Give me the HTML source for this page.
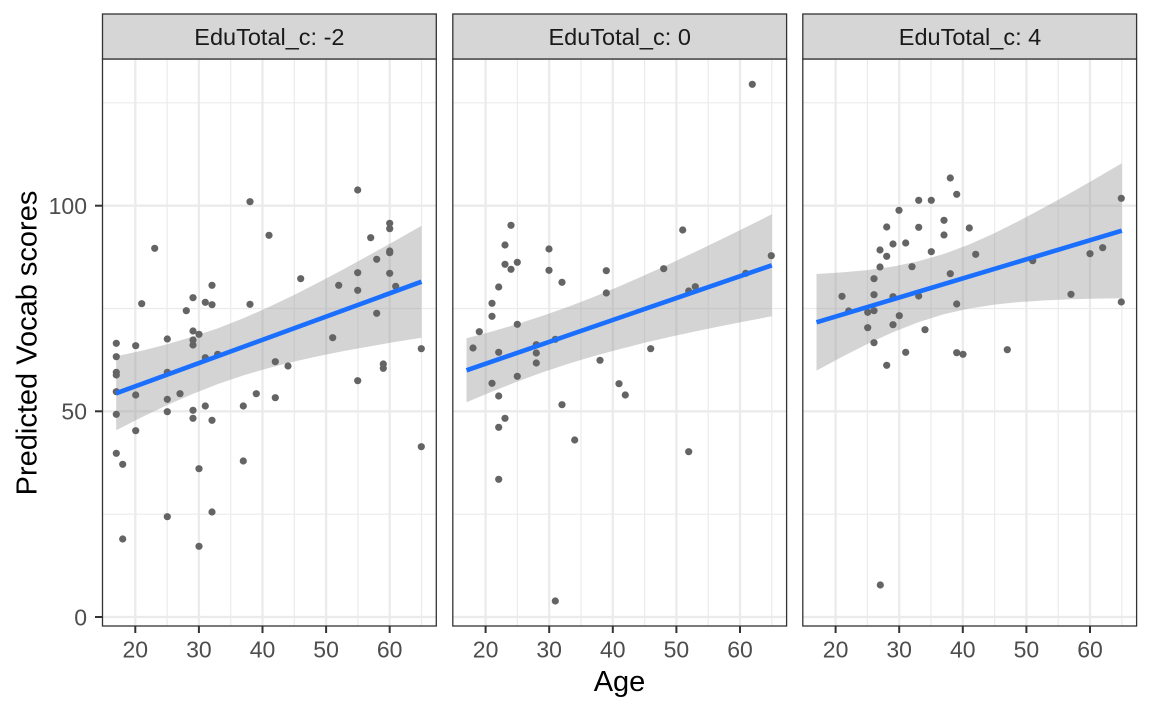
<!DOCTYPE html>
<html><head><meta charset="utf-8"><style>
html,body{margin:0;padding:0;background:#fff;}
svg{display:block;font-family:"Liberation Sans",Arial,sans-serif;}
</style></head><body>
<svg width="1152" height="711" viewBox="0 0 1152 711" xmlns="http://www.w3.org/2000/svg">
<rect width="1152" height="711" fill="#fff"/>
<defs>
<g id="grid">
<rect x="102.5" y="59" width="333.8" height="567" fill="#fff"/>
<g stroke="#EBEBEB" stroke-width="1.2">
<line x1="102.5" x2="436.3" y1="514.2" y2="514.2"/>
<line x1="102.5" x2="436.3" y1="308.5" y2="308.5"/>
<line x1="102.5" x2="436.3" y1="102.8" y2="102.8"/>
<line y1="59" y2="626" x1="167.1" x2="167.1"/>
<line y1="59" y2="626" x1="230.7" x2="230.7"/>
<line y1="59" y2="626" x1="294.3" x2="294.3"/>
<line y1="59" y2="626" x1="357.9" x2="357.9"/>
<line y1="59" y2="626" x1="421.5" x2="421.5"/>
</g>
<g stroke="#EBEBEB" stroke-width="2.3">
<line x1="102.5" x2="436.3" y1="617" y2="617"/>
<line x1="102.5" x2="436.3" y1="411.3" y2="411.3"/>
<line x1="102.5" x2="436.3" y1="205.7" y2="205.7"/>
<line y1="59" y2="626" x1="135.3" x2="135.3"/>
<line y1="59" y2="626" x1="198.9" x2="198.9"/>
<line y1="59" y2="626" x1="262.5" x2="262.5"/>
<line y1="59" y2="626" x1="326.1" x2="326.1"/>
<line y1="59" y2="626" x1="389.7" x2="389.7"/>
</g>
</g>
<g id="frame">
<rect x="102.5" y="59" width="333.8" height="567" fill="none" stroke="#333" stroke-width="1.3"/>
<rect x="102.5" y="14" width="333.8" height="45" fill="#D6D6D6" stroke="#333" stroke-width="1.3"/>
<g stroke="#333" stroke-width="2">
<line x1="135.3" x2="135.3" y1="626" y2="633"/>
<line x1="198.9" x2="198.9" y1="626" y2="633"/>
<line x1="262.5" x2="262.5" y1="626" y2="633"/>
<line x1="326.1" x2="326.1" y1="626" y2="633"/>
<line x1="389.7" x2="389.7" y1="626" y2="633"/>
</g>
<g fill="#4D4D4D" font-size="23" text-anchor="middle">
<text x="135.3" y="657.5">20</text>
<text x="198.9" y="657.5">30</text>
<text x="262.5" y="657.5">40</text>
<text x="326.1" y="657.5">50</text>
<text x="389.7" y="657.5">60</text>
</g>
</g>
</defs>

<!-- grids -->
<use href="#grid"/>
<use href="#grid" transform="translate(350.3,0)"/>
<use href="#grid" transform="translate(700.3,0)"/>

<!-- ribbons -->
<g fill="#999999" fill-opacity="0.42">
<path d="M116.2,356.3 L141.7,350.7 L167.1,344.25 L192.5,336.8 L218.0,328.2 L243.4,318.2 L268.9,307.05 L294.3,294.9 L319.7,281.9 L345.2,268.4 L370.6,254.4 L396.1,240.2 L421.5,225.7 L421.5,337.7 L396.1,341.8 L370.6,346.2 L345.2,350.8 L319.7,355.9 L294.3,361.5 L268.9,367.95 L243.4,375.4 L218.0,384.0 L192.5,394.0 L167.1,405.15 L141.7,417.3 L116.2,430.3 Z"/>
<path d="M466.5,338.3 L492.0,331.5 L517.4,324.05 L542.8,315.8 L568.3,306.8 L593.7,297.0 L619.2,286.4 L644.6,275.3 L670.0,263.7 L695.5,251.7 L720.9,239.5 L746.4,227.0 L771.8,214.3 L771.8,316.3 L746.4,321.1 L720.9,326.1 L695.5,331.4 L670.0,336.9 L644.6,342.8 L619.2,349.2 L593.7,356.1 L568.3,363.8 L542.8,372.3 L517.4,381.55 L492.0,391.6 L466.5,402.3 Z"/>
<path d="M816.5,273.95 L842.0,272.4 L867.4,270.1 L892.8,266.6 L918.3,261.3 L943.7,254.0 L969.2,244.45 L994.6,233.1 L1020.0,220.4 L1045.5,206.8 L1070.9,192.7 L1096.4,178.1 L1121.8,163.2 L1121.8,298.2 L1096.4,298.6 L1070.9,299.3 L1045.5,300.4 L1020.0,302.0 L994.6,304.6 L969.2,308.55 L943.7,314.3 L918.3,322.2 L892.8,332.2 L867.4,344.0 L842.0,356.9 L816.5,370.65 Z"/>
</g>

<!-- points -->
<g fill="#646464">
<circle cx="357.7" cy="190" r="3.6"/><circle cx="250" cy="201.7" r="3.6"/><circle cx="389.7" cy="223.3" r="3.6"/><circle cx="389.7" cy="228.7" r="3.6"/><circle cx="269" cy="235.3" r="3.6"/><circle cx="370.7" cy="237.7" r="3.6"/><circle cx="154.7" cy="248.3" r="3.6"/><circle cx="389.7" cy="251" r="3.6"/><circle cx="389.7" cy="252.7" r="3.6"/><circle cx="376.7" cy="259.3" r="3.6"/><circle cx="357.7" cy="272.7" r="3.6"/><circle cx="389.7" cy="273.3" r="3.6"/><circle cx="300.7" cy="278.7" r="3.6"/><circle cx="212" cy="285.3" r="3.6"/><circle cx="338.7" cy="285.3" r="3.6"/><circle cx="395.7" cy="286.3" r="3.6"/><circle cx="357.7" cy="290.3" r="3.6"/><circle cx="193" cy="297.7" r="3.6"/><circle cx="141.7" cy="303.7" r="3.6"/><circle cx="205.3" cy="302.3" r="3.6"/><circle cx="212" cy="304.7" r="3.6"/><circle cx="250" cy="304.3" r="3.6"/><circle cx="186.3" cy="310.7" r="3.6"/><circle cx="376.7" cy="313.3" r="3.6"/><circle cx="193" cy="331" r="3.6"/><circle cx="199" cy="334.3" r="3.6"/><circle cx="167.3" cy="339" r="3.6"/><circle cx="332.7" cy="337.7" r="3.6"/><circle cx="116.3" cy="343.3" r="3.6"/><circle cx="135.7" cy="345.7" r="3.6"/><circle cx="193" cy="340" r="3.6"/><circle cx="193" cy="345" r="3.6"/><circle cx="421.3" cy="348.7" r="3.6"/><circle cx="116.3" cy="356.7" r="3.6"/><circle cx="205.3" cy="357.7" r="3.6"/><circle cx="217.7" cy="354.3" r="3.6"/><circle cx="275.3" cy="361.7" r="3.6"/><circle cx="288" cy="366" r="3.6"/><circle cx="383.3" cy="364" r="3.6"/><circle cx="383.3" cy="368.3" r="3.6"/><circle cx="116.3" cy="372.3" r="3.6"/><circle cx="116.3" cy="375" r="3.6"/><circle cx="167.3" cy="372.3" r="3.6"/><circle cx="357.7" cy="380.7" r="3.6"/><circle cx="116.3" cy="391.7" r="3.6"/><circle cx="135.7" cy="395" r="3.6"/><circle cx="180" cy="393.7" r="3.6"/><circle cx="256.3" cy="393.7" r="3.6"/><circle cx="167.3" cy="399.3" r="3.6"/><circle cx="275.3" cy="397.7" r="3.6"/><circle cx="205.3" cy="406" r="3.6"/><circle cx="243.3" cy="406" r="3.6"/><circle cx="116.3" cy="414.3" r="3.6"/><circle cx="167.3" cy="411.7" r="3.6"/><circle cx="193" cy="410.3" r="3.6"/><circle cx="193" cy="418.3" r="3.6"/><circle cx="212" cy="420.3" r="3.6"/><circle cx="135.7" cy="430.7" r="3.6"/><circle cx="116.3" cy="453.3" r="3.6"/><circle cx="122.7" cy="464.3" r="3.6"/><circle cx="199" cy="468.7" r="3.6"/><circle cx="243.3" cy="461" r="3.6"/><circle cx="421.3" cy="446.7" r="3.6"/><circle cx="167.3" cy="516.7" r="3.6"/><circle cx="212" cy="512" r="3.6"/><circle cx="122.7" cy="539" r="3.6"/><circle cx="199" cy="546.3" r="3.6"/>

<circle cx="752.3" cy="84.3" r="3.6"/><circle cx="511" cy="225.3" r="3.6"/><circle cx="682.7" cy="230" r="3.6"/><circle cx="505" cy="245" r="3.6"/><circle cx="549" cy="249" r="3.6"/><circle cx="505" cy="264.3" r="3.6"/><circle cx="517.3" cy="262.3" r="3.6"/><circle cx="511" cy="269.3" r="3.6"/><circle cx="549" cy="270.3" r="3.6"/><circle cx="606.3" cy="270.7" r="3.6"/><circle cx="663.7" cy="268.7" r="3.6"/><circle cx="771.3" cy="255.7" r="3.6"/><circle cx="562" cy="282.3" r="3.6"/><circle cx="498.7" cy="287" r="3.6"/><circle cx="606.3" cy="293" r="3.6"/><circle cx="688.7" cy="291" r="3.6"/><circle cx="695.3" cy="286.7" r="3.6"/><circle cx="745.7" cy="273.3" r="3.6"/><circle cx="492" cy="303.3" r="3.6"/><circle cx="492" cy="316.3" r="3.6"/><circle cx="479.3" cy="331.7" r="3.6"/><circle cx="517.3" cy="324.3" r="3.6"/><circle cx="473" cy="348" r="3.6"/><circle cx="498.7" cy="352.3" r="3.6"/><circle cx="536.3" cy="344.7" r="3.6"/><circle cx="536.3" cy="353" r="3.6"/><circle cx="536.3" cy="363" r="3.6"/><circle cx="555.3" cy="339.3" r="3.6"/><circle cx="650.7" cy="348.7" r="3.6"/><circle cx="600" cy="360.3" r="3.6"/><circle cx="492" cy="383.3" r="3.6"/><circle cx="517.3" cy="376.3" r="3.6"/><circle cx="619" cy="383.7" r="3.6"/><circle cx="625.3" cy="395" r="3.6"/><circle cx="498.7" cy="396" r="3.6"/><circle cx="562" cy="404.7" r="3.6"/><circle cx="505" cy="418.3" r="3.6"/><circle cx="498.7" cy="427.3" r="3.6"/><circle cx="574.7" cy="440" r="3.6"/><circle cx="688.7" cy="451.7" r="3.6"/><circle cx="498.7" cy="479.3" r="3.6"/><circle cx="555.3" cy="601" r="3.6"/>

<circle cx="950.3" cy="178" r="3.6"/><circle cx="956.7" cy="194.3" r="3.6"/><circle cx="918.7" cy="200.3" r="3.6"/><circle cx="931.3" cy="200.3" r="3.6"/><circle cx="1121.3" cy="198.3" r="3.6"/><circle cx="899" cy="210.3" r="3.6"/><circle cx="944" cy="220.3" r="3.6"/><circle cx="886.7" cy="227" r="3.6"/><circle cx="918.7" cy="227.3" r="3.6"/><circle cx="969.3" cy="228" r="3.6"/><circle cx="944" cy="235" r="3.6"/><circle cx="893" cy="244" r="3.6"/><circle cx="905.7" cy="243" r="3.6"/><circle cx="880" cy="250" r="3.6"/><circle cx="886.7" cy="256.3" r="3.6"/><circle cx="931.3" cy="251.7" r="3.6"/><circle cx="975.7" cy="254.3" r="3.6"/><circle cx="1090" cy="253.7" r="3.6"/><circle cx="1102.7" cy="247.7" r="3.6"/><circle cx="1032.7" cy="260.7" r="3.6"/><circle cx="880" cy="267" r="3.6"/><circle cx="912" cy="266.7" r="3.6"/><circle cx="874" cy="278.7" r="3.6"/><circle cx="950.3" cy="273.7" r="3.6"/><circle cx="842" cy="296.3" r="3.6"/><circle cx="874" cy="294.7" r="3.6"/><circle cx="893" cy="296.7" r="3.6"/><circle cx="918.7" cy="296" r="3.6"/><circle cx="1071" cy="294.3" r="3.6"/><circle cx="956.7" cy="304" r="3.6"/><circle cx="1121.3" cy="302" r="3.6"/><circle cx="848.7" cy="311" r="3.6"/><circle cx="867.7" cy="312.3" r="3.6"/><circle cx="874" cy="310.7" r="3.6"/><circle cx="899.3" cy="315.7" r="3.6"/><circle cx="867.7" cy="327.7" r="3.6"/><circle cx="893" cy="324.7" r="3.6"/><circle cx="925" cy="329.7" r="3.6"/><circle cx="874" cy="342.7" r="3.6"/><circle cx="905.7" cy="352.3" r="3.6"/><circle cx="956.7" cy="352.7" r="3.6"/><circle cx="963" cy="354.3" r="3.6"/><circle cx="1007.3" cy="349.7" r="3.6"/><circle cx="886.7" cy="365.3" r="3.6"/><circle cx="880.3" cy="585" r="3.6"/>
</g>

<!-- fit lines -->
<g stroke="#1a6fff" stroke-width="4.6" stroke-linecap="butt">
<line x1="116.2" y1="393.3" x2="421.5" y2="281.7"/>
<line x1="466.5" y1="370.3" x2="771.8" y2="265.3"/>
<line x1="816.5" y1="322.3" x2="1121.8" y2="230.7"/>
</g>

<!-- frames, strips, x ticks -->
<use href="#frame"/>
<use href="#frame" transform="translate(350.3,0)"/>
<use href="#frame" transform="translate(700.3,0)"/>

<g fill="#1A1A1A" font-size="23.5" text-anchor="middle">
<text x="269.4" y="45">EduTotal_c: -2</text>
<text x="619.7" y="45">EduTotal_c: 0</text>
<text x="970.0" y="45">EduTotal_c: 4</text>
</g>

<!-- y axis -->
<g stroke="#333" stroke-width="2">
<line x1="95" x2="102.5" y1="617" y2="617"/>
<line x1="95" x2="102.5" y1="411.3" y2="411.3"/>
<line x1="95" x2="102.5" y1="205.7" y2="205.7"/>
</g>
<g fill="#4D4D4D" font-size="23" text-anchor="end">
<text x="87" y="625.3">0</text>
<text x="87" y="419.6">50</text>
<text x="87" y="214">100</text>
</g>

<!-- axis titles -->
<text x="619.5" y="691" font-size="29" text-anchor="middle" fill="#000">Age</text>
<text transform="translate(36.5,343) rotate(-90)" font-size="29" text-anchor="middle" fill="#000">Predicted Vocab scores</text>
</svg>
</body></html>
